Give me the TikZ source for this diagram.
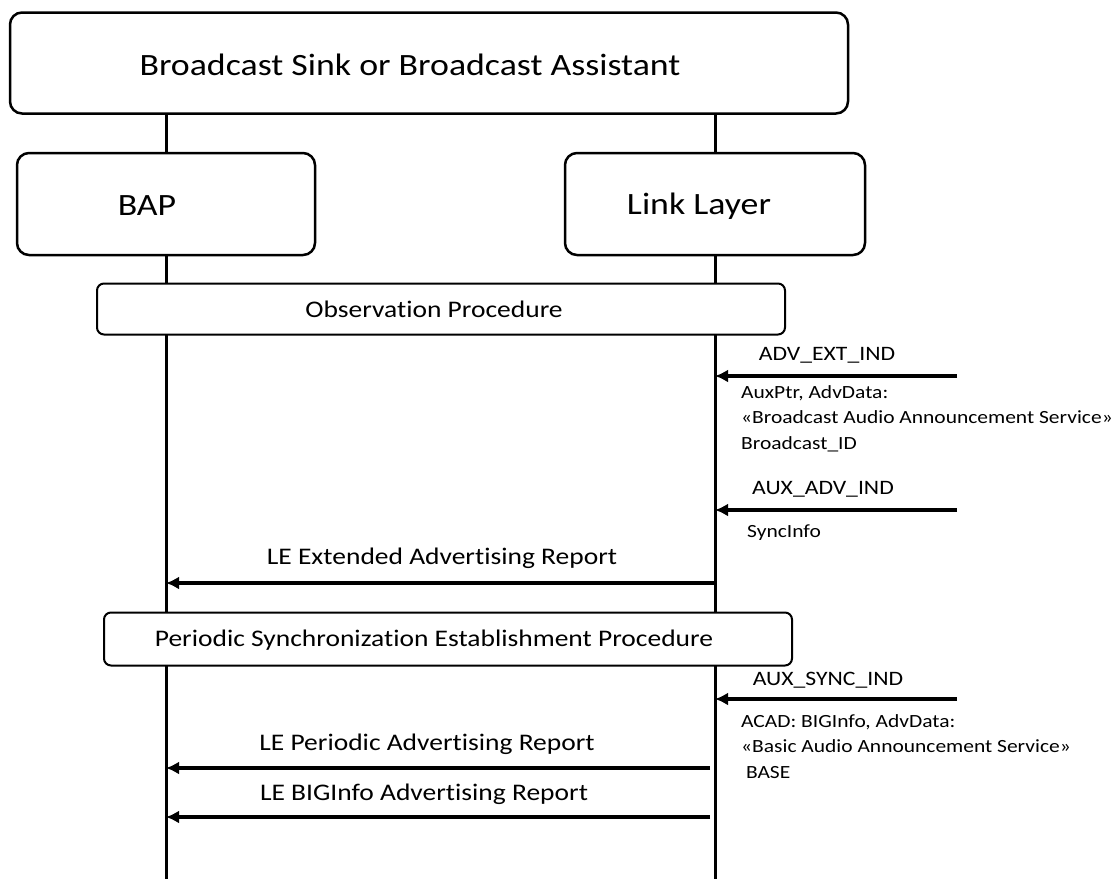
\documentclass[tikz,border=0pt]{standalone}
\usepackage{fontspec}
\setmainfont{Carlito}[FakeStretch=1.155,Ligatures=NoCommon]
\usetikzlibrary{arrows.meta}
\begin{document}
\begin{tikzpicture}[x=1pt,y=-1pt,
  box/.style={draw,line width=2.5pt,rounded corners=12pt,inner sep=0pt},
  proc/.style={draw,line width=2pt,rounded corners=7pt,inner sep=0pt},
  life/.style={line width=3pt},
  msg/.style={line width=4pt,-{Latex[length=13pt,width=13pt]}},
  big/.style={font=\fontsize{31}{34}\selectfont},
  med/.style={font=\fontsize{23.8}{27}\selectfont},
  lbl/.style={font=\fontsize{20.5}{24}\selectfont},
  sml/.style={font=\fontsize{18.6}{25.5}\selectfont,align=left,anchor=north west,inner sep=0pt}]
\useasboundingbox (0,0) rectangle (1118,879);
% boxes
\node[box,minimum width=838pt,minimum height=101pt] (top) at (429,63) {};
\node[big] (toptxt) at (410,65) {Broadcast Sink or Broadcast Assistant};
\node[box,minimum width=298pt,minimum height=102pt] (bap) at (166,204) {};
\node[big] (baptxt) at (147,206) {BAP};
\node[box,minimum width=300pt,minimum height=102pt] (ll) at (715,204) {};
\node[big] (lltxt) at (699,206) {Link Layer};
% lifeline ends
\coordinate (bapend) at (166,879);
\coordinate (llend) at (715,879);
\draw[life] (top.south -| bap) -- (bap.north);
\draw[life] (top.south -| ll) -- (ll.north);
\draw[life] (bap.south) -- (bapend);
\draw[life] (ll.south) -- (llend);
% procedure boxes
\node[proc,fill=white,minimum width=688pt,minimum height=51pt] (obs) at (441,309) {};
\node[med] (obstxt) at (434,309) {Observation Procedure};
\node[proc,fill=white,minimum width=688pt,minimum height=53pt] (psync) at (448,639) {};
\node[med] (psynctxt) at (434,640) {Periodic Synchronization Establishment Procedure};
% incoming air messages
\coordinate (s1) at (957,376);
\coordinate (e1) at (715,376);
\draw[msg] (s1) -- (e1);
\node[lbl] (m1) at (827,355) {ADV\_EXT\_IND};
\node[sml] (t1) at (741,385) {AuxPtr, AdvData:\\«Broadcast Audio Announcement Service»\\Broadcast\_ID};
\coordinate (s2) at (957,510);
\coordinate (e2) at (715,510);
\draw[msg] (s2) -- (e2);
\node[lbl] (m2) at (823,489) {AUX\_ADV\_IND};
\node[sml] (t2) at (747,525) {SyncInfo};
\coordinate (s3) at (957,699);
\coordinate (e3) at (715,699);
\draw[msg] (s3) -- (e3);
\node[lbl] (m3) at (828,680) {AUX\_SYNC\_IND};
\node[sml] (t3) at (741,714) {ACAD: BIGInfo, AdvData:\\«Basic Audio Announcement Service»\\\ BASE};
% reports
\coordinate (r1s) at (715,583);
\coordinate (r1e) at (166,583);
\draw[msg] (r1s) -- (r1e);
\node[med] (r1) at (442,558) {LE Extended Advertising Report};
\coordinate (r2s) at (710,768);
\coordinate (r2e) at (166,768);
\draw[msg] (r2s) -- (r2e);
\node[med] (r2) at (427,744) {LE Periodic Advertising Report};
\coordinate (r3s) at (710,817);
\coordinate (r3e) at (166,817);
\draw[msg] (r3s) -- (r3e);
\node[med] (r3) at (424,794) {LE BIGInfo Advertising Report};
\end{tikzpicture}
\end{document}
